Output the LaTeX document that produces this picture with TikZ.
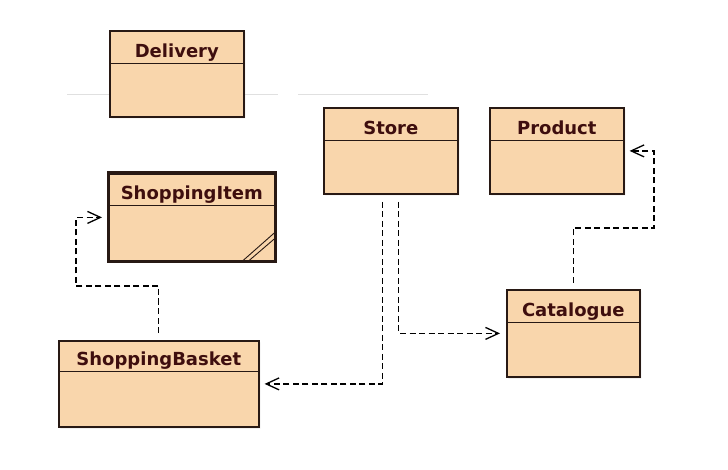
\documentclass[tikz,border=0pt]{standalone}
\usepackage{fontspec}
\setmainfont{DejaVu Sans}
\usepackage{tikz}
\usetikzlibrary{shapes,arrows.meta,shadows}
\definecolor{clsfill}{RGB}{249,214,172}
\definecolor{clsline}{RGB}{40,25,20}
\definecolor{clstext}{RGB}{62,14,14}
\tikzset{cls/.style={rectangle split,rectangle split parts=2,draw=clsline,fill=clsfill,line width=1.6pt,inner sep=0pt,text width=#1,align=center,text=clstext,font=\fontsize{18}{20}\selectfont\bfseries,anchor=north west,drop shadow={shadow xshift=1.5pt,shadow yshift=-1.5pt,opacity=0.2}}}
\tikzset{dep/.style={draw=black,line width=1.3pt,dash pattern=on 6pt off 3.5pt,-{Straight Barb[length=13pt,width=12pt]}}}

\begin{document}
\begin{tikzpicture}[x=1pt,y=-1pt]
        \useasboundingbox (0,0) rectangle (728,470);
        \draw [black!12,line width=1pt] (67,95) -- (278,95);
        \draw [black!12,line width=1pt] (298,95) -- (428,95);

        \node[cls=134pt] (deliv) at (109,30) {\rule[-5pt]{0pt}{31pt}Delivery\nodepart{two}\rule{0pt}{52pt}};
        \node[cls=134pt] (store) at (323,107) {\rule[-5pt]{0pt}{31pt}Store\nodepart{two}\rule{0pt}{52pt}};
        \node[cls=134pt] (prod) at (489,107) {\rule[-5pt]{0pt}{31pt}Product\nodepart{two}\rule{0pt}{52pt}};
        \node[cls=133pt] (cat) at (506,289) {\rule[-5pt]{0pt}{31pt}Catalogue\nodepart{two}\rule{0pt}{53pt}};
        \node[cls=166pt] (item) at (108,173) {\rule[-5pt]{0pt}{30pt}ShoppingItem\nodepart{two}\rule{0pt}{54pt}};
        \node[cls=200pt] (basket) at (58,340) {\rule[-5pt]{0pt}{29pt}ShoppingBasket\nodepart{two}\rule{0pt}{54pt}};

        \draw [clsline,line width=3pt] (item.north west) rectangle (item.south east);
        \draw [clsline,line width=0.9pt] ([xshift=-34pt]item.south east) -- ([yshift=30pt]item.south east);
        \draw [clsline,line width=0.9pt] ([xshift=-28pt]item.south east) -- ([yshift=24pt]item.south east);

        \coordinate (cp) at (654,228);
        \coordinate (bi) at (76,286);
        \draw [dep,shorten <=7pt,shorten >=5pt] ([xshift=-8pt]store.south) |- (basket.east);
        \draw [dep,shorten <=7pt,shorten >=6pt] ([xshift=8pt]store.south) |- (cat.west);
        \draw [dep,shorten <=6pt,shorten >=5pt] (cat.north) |- (cp) |- (prod.east);
        \draw [dep,shorten <=7pt,shorten >=6pt] (basket.north) |- (bi) |- (item.west);
    \end{tikzpicture}
\end{document}
